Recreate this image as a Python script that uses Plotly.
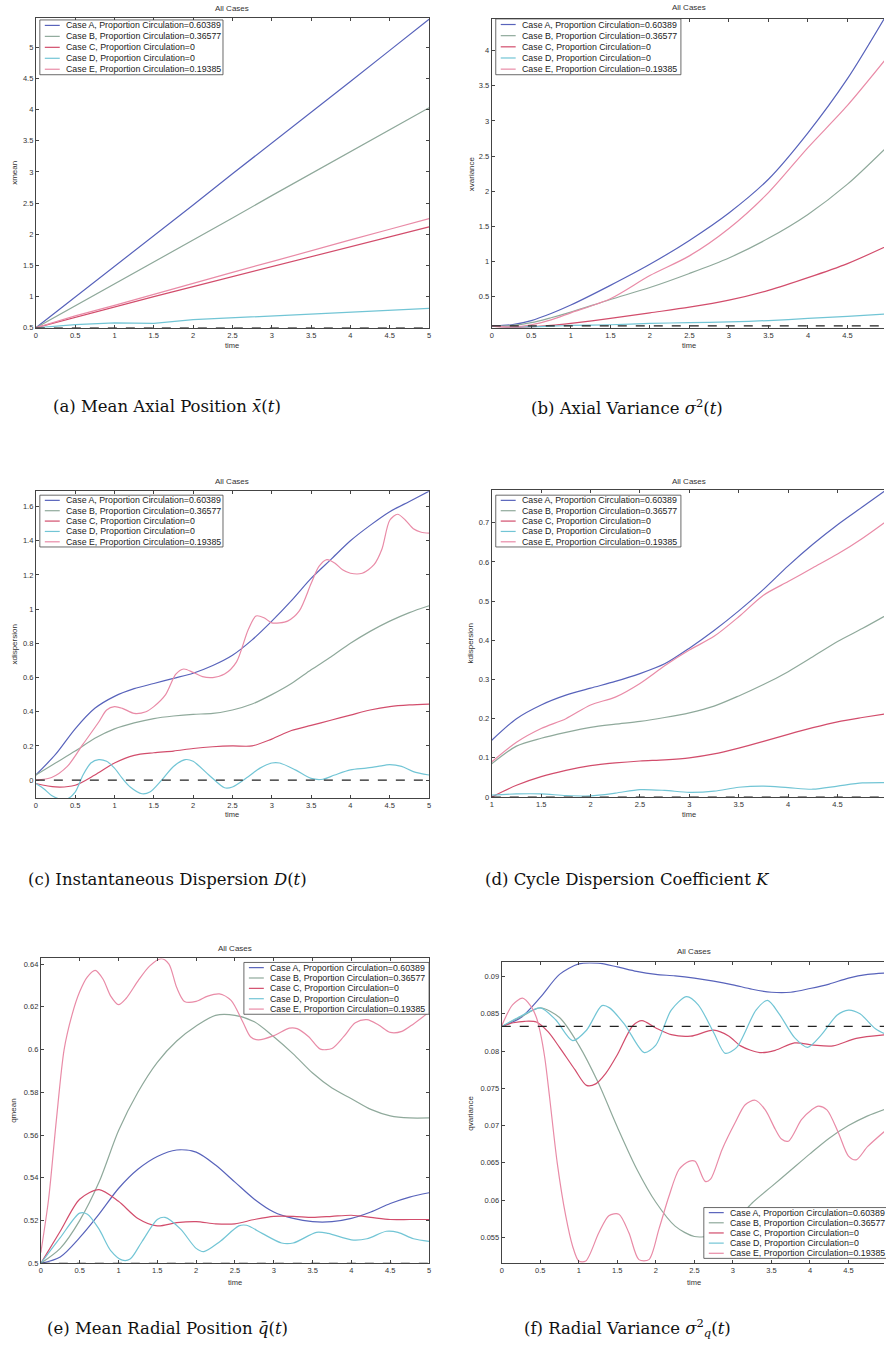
import plotly.graph_objects as go

W, H = 886, 1361

# ---------------- data ----------------
labels = ["Case A, Proportion Circulation=0.60389",
          "Case B, Proportion Circulation=0.36577",
          "Case C, Proportion Circulation=0",
          "Case D, Proportion Circulation=0",
          "Case E, Proportion Circulation=0.19385"]
colors = ["#5863bb", "#8fa99b", "#d24d6c", "#72c5d5", "#e98ba7"]

# (a) mean axial position
a_t = [0, 0.5, 1, 1.5, 2, 2.5, 3, 3.5, 4, 4.5, 5]
a_A = [0.5, 0.99, 1.48, 1.98, 2.47, 2.97, 3.46, 3.96, 4.45, 4.95, 5.45]
a_B = [0.5, 0.85, 1.2, 1.56, 1.91, 2.26, 2.62, 2.97, 3.32, 3.67, 4.03]
a_C = [0.5, 0.67, 0.83, 1.0, 1.16, 1.32, 1.48, 1.64, 1.8, 1.96, 2.12]
a_D = [0.5, 0.55, 0.58, 0.57, 0.63, 0.66, 0.69, 0.72, 0.74, 0.78, 0.81]
a_E = [0.5, 0.69, 0.86, 1.04, 1.22, 1.39, 1.56, 1.74, 1.91, 2.08, 2.25]
a_ref = [0.5, 0.5]

# (b) axial variance
b_t = [0, 0.25, 0.5, 0.75, 1, 1.5, 2, 2.5, 3, 3.5, 4, 4.5, 5]
b_A = [0.08, 0.1, 0.16, 0.26, 0.38, 0.66, 0.96, 1.3, 1.69, 2.17, 2.83, 3.6, 4.52]
b_B = [0.08, 0.09, 0.13, 0.2, 0.28, 0.46, 0.63, 0.83, 1.05, 1.33, 1.67, 2.1, 2.63]
b_C = [0.08, 0.06, 0.07, 0.09, 0.12, 0.19, 0.27, 0.35, 0.45, 0.59, 0.77, 0.97, 1.22]
b_D = [0.08, 0.07, 0.07, 0.08, 0.09, 0.1, 0.12, 0.13, 0.14, 0.16, 0.19, 0.22, 0.255]
b_E = [0.08, 0.07, 0.1, 0.17, 0.27, 0.47, 0.8, 1.08, 1.47, 1.98, 2.62, 3.22, 3.9]
b_ref = [0.0833, 0.0833]

# (c) instantaneous dispersion
c_t = [0, 0.25, 0.5, 0.75, 1, 1.25, 1.5, 1.75, 2, 2.25, 2.5, 2.75, 3, 3.25, 3.5,
       3.75, 4, 4.25, 4.5, 4.75, 5]
c_A = [0.03, 0.15, 0.3, 0.42, 0.49, 0.535, 0.565, 0.595, 0.625, 0.67, 0.73, 0.82,
       0.93, 1.05, 1.18, 1.29, 1.4, 1.49, 1.57, 1.63, 1.69]
c_B = [0.03, 0.1, 0.17, 0.245, 0.3, 0.335, 0.36, 0.375, 0.385, 0.39, 0.41, 0.445,
       0.5, 0.565, 0.645, 0.72, 0.8, 0.87, 0.93, 0.98, 1.02]
c_C = [-0.02, -0.04, -0.03, 0.03, 0.1, 0.145, 0.16, 0.17, 0.185, 0.195, 0.2, 0.2,
       0.24, 0.29, 0.32, 0.35, 0.38, 0.41, 0.43, 0.44, 0.445]
c_D_t = [0, 0.1, 0.2, 0.3, 0.4, 0.5, 0.6, 0.7, 0.8, 0.9, 1.0, 1.1, 1.2, 1.35, 1.45,
         1.6, 1.75, 1.9, 2.0, 2.2, 2.4, 2.5, 2.7, 2.85, 3.0, 3.1, 3.3, 3.5, 3.65,
         3.8, 4.0, 4.2, 4.35, 4.5, 4.65, 4.8, 5.0]
c_D = [-0.02, -0.05, -0.09, -0.11, -0.11, -0.07, 0.03, 0.1, 0.12, 0.11, 0.07, 0.01,
       -0.04, -0.08, -0.07, 0.0, 0.08, 0.12, 0.11, 0.03, -0.045, -0.04, 0.02, 0.07,
       0.1, 0.1, 0.06, 0.01, 0.005, 0.03, 0.06, 0.07, 0.08, 0.09, 0.08, 0.05, 0.03]
c_E_t = [0, 0.2, 0.4, 0.6, 0.8, 0.9, 1.0, 1.1, 1.25, 1.4, 1.5, 1.65, 1.78, 1.88,
         2.0, 2.12, 2.25, 2.4, 2.55, 2.7, 2.8, 2.9, 3.0, 3.1, 3.2, 3.35, 3.5, 3.6,
         3.7, 3.8, 3.9, 4.0, 4.15, 4.3, 4.4, 4.5, 4.6, 4.7, 4.8, 4.9, 5.0]
c_E = [0.0, 0.015, 0.08, 0.21, 0.34, 0.41, 0.43, 0.42, 0.39, 0.4, 0.43, 0.5, 0.62,
       0.65, 0.63, 0.605, 0.6, 0.62, 0.69, 0.88, 0.96, 0.95, 0.92, 0.92, 0.93, 0.99,
       1.15, 1.25, 1.29, 1.27, 1.23, 1.21, 1.21, 1.26, 1.35, 1.52, 1.555, 1.52,
       1.47, 1.45, 1.445]
c_ref = [0, 0]

# (d) cycle dispersion coefficient
d_t = [1, 1.25, 1.5, 1.75, 2, 2.25, 2.5, 2.75, 3, 3.25, 3.5, 3.75, 4, 4.25, 4.5,
       4.75, 5]
d_A = [0.145, 0.2, 0.235, 0.26, 0.278, 0.295, 0.315, 0.34, 0.38, 0.425, 0.475,
       0.53, 0.59, 0.645, 0.695, 0.74, 0.785]
d_B = [0.085, 0.13, 0.15, 0.165, 0.178, 0.186, 0.193, 0.203, 0.215, 0.232, 0.258,
       0.287, 0.32, 0.358, 0.397, 0.43, 0.465]
d_C = [0.0, 0.03, 0.052, 0.068, 0.08, 0.087, 0.092, 0.095, 0.1, 0.11, 0.125,
       0.142, 0.16, 0.177, 0.192, 0.203, 0.213]
d_D = [0.005, 0.008, 0.008, 0.004, 0.003, 0.01, 0.019, 0.017, 0.012, 0.015, 0.025,
       0.028, 0.024, 0.02, 0.028, 0.036, 0.037]
d_E = [0.09, 0.14, 0.175, 0.2, 0.235, 0.255, 0.29, 0.335, 0.375, 0.41, 0.46,
       0.515, 0.55, 0.585, 0.62, 0.66, 0.705]
d_ref = [0, 0]

# (e) mean radial position
e_t = [0, 0.25, 0.5, 0.75, 1, 1.25, 1.5, 1.75, 2, 2.25, 2.5, 2.75, 3, 3.25, 3.5,
       3.75, 4, 4.25, 4.5, 4.75, 5]
e_A = [0.5, 0.503, 0.512, 0.523, 0.535, 0.544, 0.55, 0.553, 0.552, 0.546, 0.538,
       0.53, 0.524, 0.521, 0.5195, 0.5195, 0.521, 0.524, 0.528, 0.531, 0.533]
e_B = [0.5, 0.507, 0.52, 0.538, 0.562, 0.58, 0.594, 0.604, 0.611, 0.616, 0.616,
       0.613, 0.606, 0.598, 0.589, 0.582, 0.577, 0.572, 0.569, 0.568, 0.568]
e_C = [0.5, 0.515, 0.53, 0.5345, 0.529, 0.521, 0.5175, 0.519, 0.5195, 0.5185,
       0.5185, 0.5205, 0.522, 0.522, 0.5215, 0.522, 0.5225, 0.5215, 0.5205,
       0.5205, 0.5205]
e_D_t = [0, 0.25, 0.5, 0.6, 0.75, 0.9, 1.05, 1.15, 1.3, 1.5, 1.6, 1.8, 2.0, 2.1,
         2.3, 2.55, 2.65, 2.85, 3.1, 3.25, 3.55, 3.7, 4.0, 4.2, 4.45, 4.6, 4.8, 5.0]
e_D = [0.5, 0.512, 0.5235, 0.523, 0.516, 0.506, 0.5015, 0.502, 0.51, 0.5205,
       0.5215, 0.516, 0.507, 0.5055, 0.51, 0.5175, 0.5178, 0.514, 0.5095, 0.5095,
       0.5145, 0.514, 0.511, 0.5115, 0.515, 0.5145, 0.5115, 0.5103]
e_E_t = [0, 0.1, 0.2, 0.3, 0.4, 0.5, 0.6, 0.7, 0.8, 0.9, 1.0, 1.1, 1.25, 1.4, 1.55,
         1.65, 1.75, 1.85, 2.0, 2.15, 2.3, 2.45, 2.6, 2.7, 2.8, 3.0, 3.2, 3.3, 3.45,
         3.6, 3.75, 3.9, 4.05, 4.2, 4.35, 4.5, 4.65, 4.8, 5.0]
e_E = [0.505, 0.53, 0.567, 0.6, 0.616, 0.627, 0.634, 0.637, 0.633, 0.625, 0.621,
       0.624, 0.632, 0.639, 0.6425, 0.64, 0.629, 0.6225, 0.6225, 0.625, 0.626,
       0.623, 0.613, 0.606, 0.6045, 0.6065, 0.61, 0.6098, 0.606, 0.6002, 0.6005,
       0.606, 0.6125, 0.614, 0.6115, 0.608, 0.6085, 0.612, 0.6175]
e_ref = [0.5, 0.5]

# (f) radial variance
f_t = [0, 0.25, 0.5, 0.75, 1, 1.25, 1.5, 1.75, 2, 2.25, 2.5, 2.75, 3, 3.25, 3.5,
       3.75, 4, 4.25, 4.5, 4.75, 5]
f_A = [0.0833, 0.0845, 0.0872, 0.0903, 0.0917, 0.0918, 0.0913, 0.0907, 0.0903,
       0.0901, 0.0898, 0.0894, 0.0889, 0.0883, 0.0879, 0.0879, 0.0884, 0.089,
       0.0898, 0.0903, 0.0905]
f_B = [0.0833, 0.0846, 0.0858, 0.0845, 0.0808, 0.0758, 0.0698, 0.0642, 0.0597,
       0.0565, 0.0551, 0.0553, 0.0568, 0.0596, 0.0618, 0.064, 0.0662, 0.0683,
       0.07, 0.0713, 0.0723]
f_C_t = [0, 0.15, 0.3, 0.45, 0.6, 0.75, 0.95, 1.1, 1.22, 1.35, 1.5, 1.7, 1.82, 2.0,
         2.2, 2.45, 2.75, 2.95, 3.1, 3.35, 3.55, 3.8, 4.05, 4.3, 4.6, 5.0]
f_C = [0.0833, 0.0838, 0.084, 0.0839, 0.0826, 0.0805, 0.0775, 0.0754, 0.0756,
       0.077, 0.0795, 0.0834, 0.0841, 0.0831, 0.0822, 0.082, 0.0828, 0.082, 0.0807,
       0.0798, 0.0801, 0.0811, 0.0808, 0.0807, 0.0817, 0.0822]
f_D_t = [0, 0.25, 0.5, 0.7, 0.92, 1.1, 1.3, 1.4, 1.6, 1.85, 2.0, 2.2, 2.4, 2.55,
         2.75, 2.9, 3.05, 3.3, 3.45, 3.6, 3.8, 3.97, 4.15, 4.35, 4.5, 4.65, 4.85, 5.0]
f_D = [0.0833, 0.0847, 0.0858, 0.0842, 0.0814, 0.0828, 0.0861, 0.0858, 0.0835,
       0.0798, 0.0808, 0.0855, 0.0873, 0.0862, 0.0825, 0.0797, 0.0805, 0.0855,
       0.0868, 0.085, 0.0818, 0.0805, 0.0822, 0.0848, 0.0855, 0.085, 0.083, 0.0822]
f_E_t = [0, 0.14, 0.27, 0.38, 0.45, 0.5, 0.56, 0.62, 0.72, 0.83, 0.92, 1.0, 1.09,
         1.26, 1.39, 1.52, 1.65, 1.78, 1.91, 2.04, 2.17, 2.3, 2.43, 2.51, 2.64, 2.71,
         2.86, 3.03, 3.16, 3.29, 3.42, 3.55, 3.63, 3.72, 3.89, 4.02, 4.11, 4.22,
         4.37, 4.5, 4.6, 4.75, 5.0]
f_E = [0.0834, 0.0862, 0.0871, 0.086, 0.0845, 0.0825, 0.079, 0.0739, 0.065, 0.0579,
       0.0538, 0.0518, 0.0518, 0.0556, 0.0579, 0.0581, 0.0556, 0.052, 0.052, 0.0561,
       0.0605, 0.0641, 0.0652, 0.0652, 0.0625, 0.0628, 0.0668, 0.0704, 0.0728,
       0.0734, 0.0721, 0.0695, 0.0682, 0.0679, 0.0708, 0.0721, 0.0726, 0.0721,
       0.069, 0.0659, 0.0654, 0.0672, 0.0695]
f_ref = [0.08333, 0.08333]

ylabels = ["xmean", "xvariance", "xdispersion", "kdispersion", "qmean", "qvariance"]
captions = ["(a) Mean Axial Position <i>x̄</i>(<i>t</i>)",
            "(b) Axial Variance <i>σ</i><sup>2</sup>(<i>t</i>)",
            "(c) Instantaneous Dispersion <i>D</i>(<i>t</i>)",
            "(d) Cycle Dispersion Coefficient <i>K</i>",
            "(e) Mean Radial Position <i>q̄</i>(<i>t</i>)",
            "(f) Radial Variance <i>σ</i><sup>2</sup><sub><i>q</i></sub>(<i>t</i>)"]

panels_data = [
    [(a_t, a_A), (a_t, a_B), (a_t, a_C), (a_t, a_D), (a_t, a_E), ([0, 5], a_ref)],
    [(b_t, b_A), (b_t, b_B), (b_t, b_C), (b_t, b_D), (b_t, b_E), ([0, 5], b_ref)],
    [(c_t, c_A), (c_t, c_B), (c_t, c_C), (c_D_t, c_D), (c_E_t, c_E), ([0, 5], c_ref)],
    [(d_t, d_A), (d_t, d_B), (d_t, d_C), (d_t, d_D), (d_t, d_E), ([1, 5], d_ref)],
    [(e_t, e_A), (e_t, e_B), (e_t, e_C), (e_D_t, e_D), (e_E_t, e_E), ([0, 5], e_ref)],
    [(f_t, f_A), (f_t, f_B), (f_C_t, f_C), (f_D_t, f_D), (f_E_t, f_E), ([0, 5], f_ref)],
]

# ---------------- layout (pixels) ----------------
boxes = [(34, 429, 18, 329), (492, 886, 19, 329),
         (34, 429, 493, 801), (492, 886, 492, 800),
         (39, 429, 962, 1268), (502, 886, 966, 1268)]
xranges = [[0, 5], [0, 4.962], [0, 5], [1, 4.97], [0, 5], [0, 4.961]]
yranges = [[0.5, 5.47], [0.057, 4.45], [-0.105, 1.69], [0, 0.783],
           [0.5, 0.6426], [0.0515, 0.0919]]
ydticks = [0.5, 0.5, 0.2, 0.1, 0.02, 0.005]
title_y = [9, 8, 483, 483, 952, 955]
time_y = [347, 347, 818, 818, 1287, 1287]
ylab_x = [13, 471, 13, 471, 12, 471]
cap_x = [166, 628, 166, 628, 166, 628]
cap_y = [408, 408, 883, 883, 1333, 1333]
legboxes = [(38, 222, 20, 75), (496, 682, 19, 75),
            (38, 222, 497, 549), (496, 682, 497, 549),
            (243, 429, 966, 1018), (705, 890, 1212, 1263)]


def px(x):
    return x / W


def py(y):
    return 1 - y / H


fig = go.Figure()
layout = dict(width=W, height=H, margin=dict(l=0, r=0, t=0, b=0), autosize=False,
              paper_bgcolor="white", plot_bgcolor="white", showlegend=False)
shapes = []
annotations = []
FONT = "Liberation Sans, Arial, sans-serif"

for i in range(6):
    k = "" if i == 0 else str(i + 1)
    x0, x1, yt, yb = boxes[i]
    right_col = i % 2 == 1
    layout["xaxis" + k] = dict(
        domain=[px(x0), px(x1)], anchor="y" + k, range=xranges[i], dtick=0.5,
        ticks="inside", ticklen=3, tickwidth=0.8, tickcolor="#444",
        showline=True, linecolor="#444", linewidth=1, mirror="ticks",
        showgrid=False, zeroline=False,
        tickfont=dict(size=7.5, color="#333", family=FONT))
    layout["yaxis" + k] = dict(
        domain=[py(yb), py(yt)], anchor="x" + k, range=yranges[i], dtick=ydticks[i],
        ticks="inside", ticklen=3, tickwidth=0.8, tickcolor="#444",
        showline=True, linecolor="#444", linewidth=1,
        mirror=False if right_col else "ticks",
        showgrid=False, zeroline=False,
        tickfont=dict(size=7.5, color="#333", family=FONT))

    for j, (tt, yy) in enumerate(panels_data[i]):
        if j < 5:
            fig.add_trace(go.Scatter(
                x=tt, y=yy, mode="lines", name=labels[j],
                line=dict(color=colors[j], width=1.2,
                          shape="linear" if i == 0 else "spline", smoothing=0.8),
                xaxis="x" + k, yaxis="y" + k))
        else:
            fig.add_trace(go.Scatter(
                x=tt, y=yy, mode="lines", name="reference",
                line=dict(color="#222", width=1.2, dash="dash"),
                xaxis="x" + k, yaxis="y" + k))

    # horizontal centre of the full (possibly clipped) axes box
    full_x1 = x0 + (x1 - x0) * 5.0 / (xranges[i][1] - xranges[i][0]) * \
        ((5 - xranges[i][0]) / 5.0)
    xmid = (x0 + full_x1) / 2
    annotations.append(dict(text="All Cases", x=px(xmid), y=py(title_y[i]),
                            xref="paper", yref="paper", showarrow=False,
                            xanchor="center", yanchor="middle",
                            font=dict(size=8, color="#333", family=FONT)))
    annotations.append(dict(text="time", x=px(xmid), y=py(time_y[i]),
                            xref="paper", yref="paper", showarrow=False,
                            xanchor="center", yanchor="middle",
                            font=dict(size=7.5, color="#333", family=FONT)))
    annotations.append(dict(text=ylabels[i], x=px(ylab_x[i]), y=py((yt + yb) / 2),
                            xref="paper", yref="paper", showarrow=False, textangle=-90,
                            xanchor="center", yanchor="middle",
                            font=dict(size=8, color="#333", family=FONT)))
    annotations.append(dict(text=captions[i], x=px(cap_x[i]), y=py(cap_y[i]),
                            xref="paper", yref="paper", showarrow=False,
                            xanchor="center", yanchor="middle",
                            font=dict(size=16.5, color="#111",
                                      family="DejaVu Serif, serif")))

    # legend box
    lx0, lx1, lyt, lyb = legboxes[i]
    shapes.append(dict(type="rect", xref="paper", yref="paper", layer="above",
                       x0=px(lx0), x1=px(lx1), y0=py(lyb), y1=py(lyt),
                       line=dict(color="#444", width=0.8), fillcolor="white"))
    step = (lyb - lyt) / 5.0
    for j in range(5):
        ey = lyt + step * (j + 0.5)
        shapes.append(dict(type="line", xref="paper", yref="paper", layer="above",
                           x0=px(lx0 + 5), x1=px(lx0 + 20), y0=py(ey), y1=py(ey),
                           line=dict(color=colors[j], width=1.2)))
        annotations.append(dict(text=labels[j], x=px(lx0 + 24), y=py(ey),
                                xref="paper", yref="paper", showarrow=False,
                                xanchor="left", yanchor="middle",
                                font=dict(size=8.8, color="#222", family=FONT)))

layout["shapes"] = shapes
layout["annotations"] = annotations
fig.update_layout(**layout)
fig.write_html("out.html")
